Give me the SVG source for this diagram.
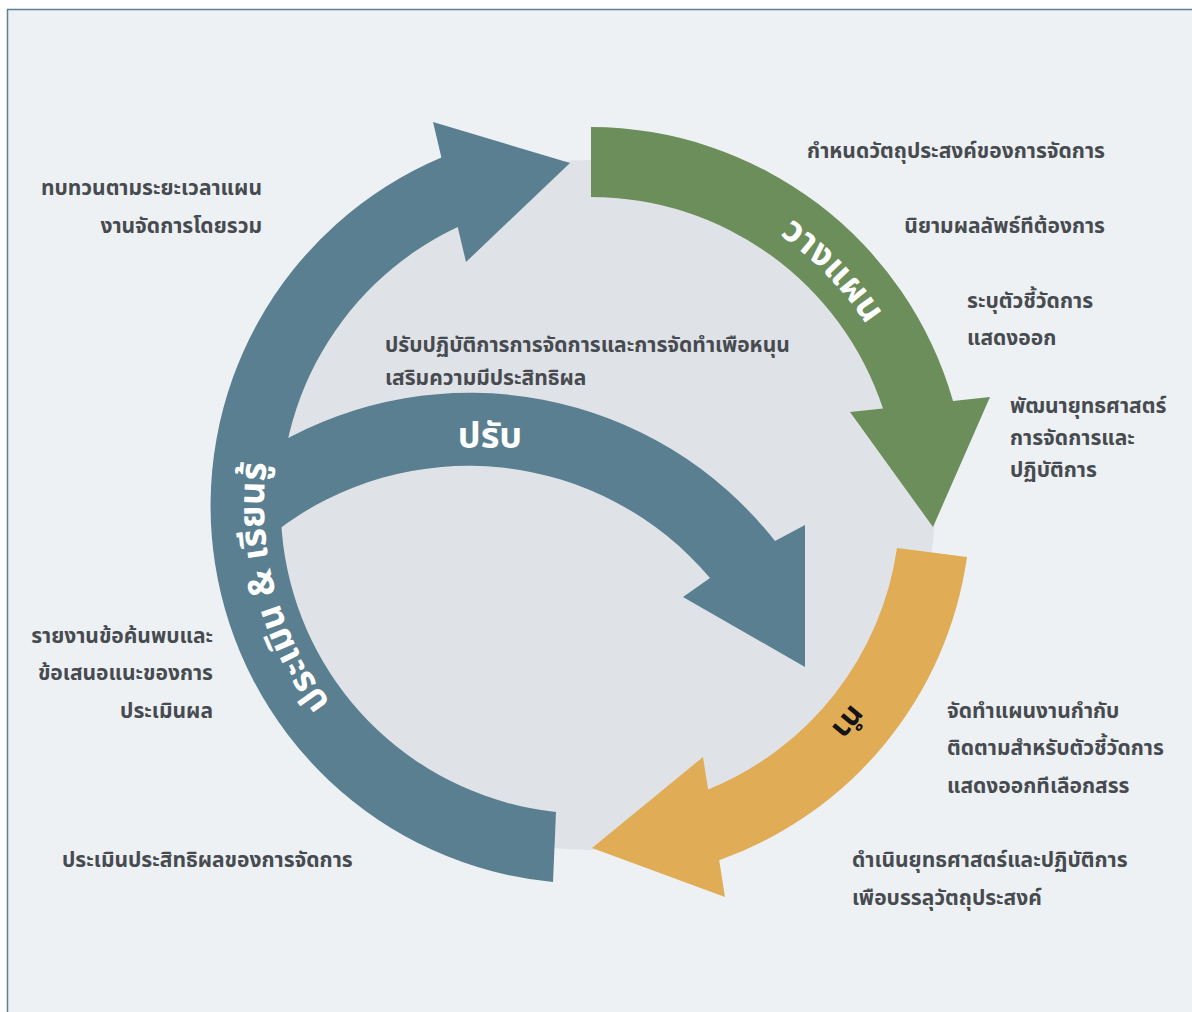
<svg xmlns="http://www.w3.org/2000/svg" width="1192" height="1012" viewBox="0 0 1192 1012">
  <defs>
    <style>
      .lbl { font-family: "Noto Sans Thai", "Noto Sans", "DejaVu Sans", sans-serif; font-weight: 700; font-size: 21px; fill: #474b50; }
      .end { text-anchor: end; }
      .big { font-family: "Noto Sans Thai", "Noto Sans", "DejaVu Sans", sans-serif; font-weight: 700; font-size: 36px; fill: #ffffff; }
      .dark { fill: #141414; font-size: 30px; }
    </style>
    <path id="pGreen" d="M 681,187.8 A 330 330 0 0 1 910.2,425.2"/>
    <path id="pOrange" d="M 913,562 A 328 328 0 0 1 702.2,813.2"/>
    <path id="pBlue" d="M 427,787.3 A 326 326 0 0 1 307.7,342"/>
  </defs>

  <rect x="0" y="0" width="1192" height="1012" fill="#ffffff"/>
  <rect x="7.5" y="9.5" width="1200" height="1010" fill="#edf1f4" stroke="#5d7f90" stroke-width="1.5"/>

  <g id="disc">
    <circle cx="590" cy="505" r="345" fill="#dfe2e7"/>
  </g>

  <g id="connectors">
    <path id="arrow-evaluate" d="M 553,882 A 378 378 0 0 1 441.4,157.5 L 433,122 L 570,163 L 466,262 L 457.7,227 A 308 308 0 0 0 556,812 Z" fill="#5a7f90"/>
    <path id="arrow-adjust" d="M 275,445.3 A 388 388 0 0 1 775,541 L 805,525 L 805,667 L 683,597 L 710,578 A 316 316 0 0 0 275,532 Z" fill="#5a7f90"/>
    <path id="arrow-plan" d="M 591,127 A 378 378 0 0 1 953,401 L 990,397 L 933,527 L 850,412 L 883,408.6 A 308 308 0 0 0 591,197 Z" fill="#6b8e5a"/>
    <path id="arrow-do" d="M 967,557 A 378 378 0 0 1 719.2,860.2 L 725,897 L 592,848 L 703,757 L 708.1,789.5 A 308 308 0 0 0 897,548 Z" fill="#e1ac56"/>
  </g>

  <g id="node-plan">
    <text class="big"><textPath href="#pGreen" startOffset="50%" text-anchor="middle">วางแผน</textPath></text>
  </g>
  <g id="node-do">
    <text class="big dark"><textPath href="#pOrange" startOffset="50%" text-anchor="middle">ทำ</textPath></text>
  </g>
  <g id="node-evaluate">
    <text class="big"><textPath href="#pBlue" startOffset="50%" text-anchor="middle">ประเมิน &amp; เรียนรู้</textPath></text>
  </g>
  <g id="node-adjust">
    <text class="big" x="490" y="448" text-anchor="middle">ปรับ</text>
  </g>

  <g id="notes-plan">
    <text class="lbl end" x="1105" y="158">กำหนดวัตถุประสงค์ของการจัดการ</text>
    <text class="lbl end" x="1105" y="233">นิยามผลลัพธ์ทีต้องการ</text>
    <text class="lbl" x="967" y="308">ระบุตัวชี้วัดการ</text>
    <text class="lbl" x="967" y="345">แสดงออก</text>
    <text class="lbl" x="1010" y="413">พัฒนายุทธศาสตร์</text>
    <text class="lbl" x="1010" y="445">การจัดการและ</text>
    <text class="lbl" x="1010" y="477">ปฏิบัติการ</text>
  </g>

  <g id="notes-do">
    <text class="lbl" x="947" y="718">จัดทำแผนงานกำกับ</text>
    <text class="lbl" x="947" y="755">ติดตามสำหรับตัวชี้วัดการ</text>
    <text class="lbl" x="947" y="793">แสดงออกทีเลือกสรร</text>
    <text class="lbl" x="852" y="867">ดำเนินยุทธศาสตร์และปฏิบัติการ</text>
    <text class="lbl" x="852" y="905">เพือบรรลุวัตถุประสงค์</text>
  </g>

  <g id="notes-evaluate">
    <text class="lbl end" x="213" y="643">รายงานข้อค้นพบและ</text>
    <text class="lbl end" x="213" y="680">ข้อเสนอแนะของการ</text>
    <text class="lbl end" x="213" y="718">ประเมินผล</text>
    <text class="lbl" x="62" y="867">ประเมินประสิทธิผลของการจัดการ</text>
    <text class="lbl end" x="262" y="195">ทบทวนตามระยะเวลาแผน</text>
    <text class="lbl end" x="262" y="233">งานจัดการโดยรวม</text>
  </g>

  <g id="notes-adjust">
    <text class="lbl" x="385" y="352">ปรับปฏิบัติการการจัดการและการจัดทำเพือหนุน</text>
    <text class="lbl" x="385" y="385">เสริมความมีประสิทธิผล</text>
  </g>
</svg>
